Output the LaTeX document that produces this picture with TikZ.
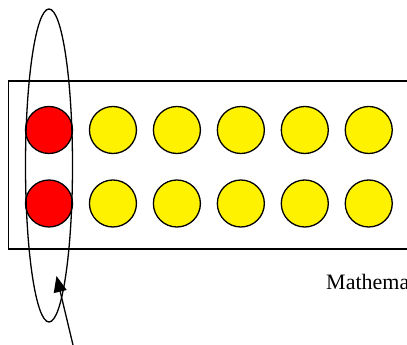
\documentclass[tikz,border=0pt]{standalone}
\usepackage{fontspec}
\setmainfont{Liberation Serif}
\usetikzlibrary{arrows.meta,shapes.geometric}
\begin{document}
\begin{tikzpicture}[x=1pt,y=1pt,
  ball/.style={circle,draw=black,line width=1.3pt,minimum size=47pt,inner sep=0pt},
  redball/.style={ball,fill=red},
  yelball/.style={ball,fill=yellow},
  frame/.style={draw=black,line width=1.3pt},
  loop/.style={draw=black,line width=1.3pt},
  pointer/.style={draw=black,line width=1.3pt,-{Triangle[length=16pt,width=13pt]}}]
\useasboundingbox (0,0) rectangle (407,345);
\clip (0,0) rectangle (407,345);
\fill[white] (0,0) rectangle (407,345);
\draw[frame] (8.5,96) rectangle (430,264);
\foreach \r/\y in {a/215,b/141.5}{
  \node[redball] (\r0) at (49,\y) {};
  \foreach \i in {1,...,5}{
    \node[yelball] (\r\i) at ({49+63.95*\i},\y) {};
  }
}
\node[loop,ellipse,minimum width=47pt,minimum height=313pt,inner sep=0pt] (grp) at (49,179.5) {};
\coordinate (tail) at (73,0);
\coordinate (tip) at (56.5,69);
\draw[pointer] (tail) -- (tip);
\node[anchor=base west,inner sep=0pt,font=\fontsize{22}{26}\selectfont] (lbl) at (326,55) {Mathema};
\end{tikzpicture}
\end{document}
